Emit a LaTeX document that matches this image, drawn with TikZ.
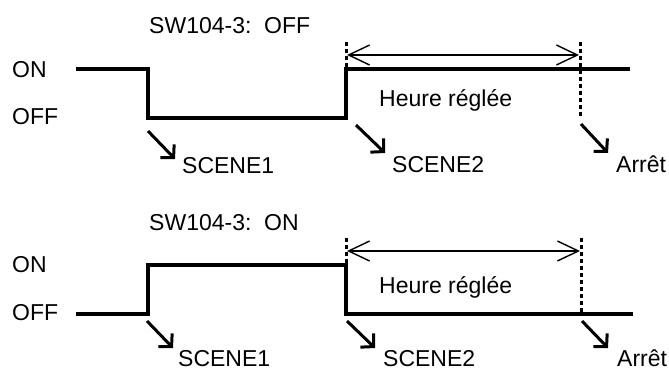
\documentclass[tikz,border=0pt]{standalone}
\usepackage{fontspec}
\setmainfont{Liberation Sans}
\usetikzlibrary{arrows.meta}
\begin{document}
\begin{tikzpicture}[x=1pt,y=-1pt,
  lbl/.style={inner sep=0pt,anchor=base west,font=\fontsize{23}{27}\selectfont},
  sig/.style={line width=4pt,line cap=butt,line join=miter},
  mark line/.style={line width=3pt,dash pattern=on 4pt off 3pt},
  dim/.style={line width=1.4pt,{Straight Barb[length=21pt,width=20pt,line width=1.4pt]}-{Straight Barb[length=21pt,width=20pt,line width=1.4pt]}},
  evt/.style={line width=3pt,-{Straight Barb[length=9pt,width=19pt,line width=3pt]}}]
\useasboundingbox (0,0) rectangle (669,370);
% ---------- top ----------
\node[lbl] (t1) at (149,33) {SW104-3:\ \ OFF};
\node[lbl] (on1) at (12,77) {ON};
\node[lbl] (off1) at (12,124) {OFF};
\coordinate (a0) at (76,69);
\coordinate (a1) at (148,69);
\coordinate (a2) at (148,118);
\coordinate (a3) at (346,118);
\coordinate (a4) at (346,69);
\coordinate (a5) at (630,69);
\draw[sig] (a0) -- (a1) -- (a2) -- (a3) -- (a4) -- (a5);
\coordinate (d1t) at (346,42);
\coordinate (d2t) at (580,42);
\coordinate (d2b) at (580,118);
\draw[mark line] (d1t) -- (a4);
\draw[mark line] (d2t) -- (d2b);
\coordinate (h1l) at (347,55);
\coordinate (h1r) at (579,55);
\draw[dim] (h1l) -- (h1r);
\node[lbl] (hr1) at (379,106) {Heure réglée};
\node[lbl] (s11) at (182,173) {SCENE1};
\node[lbl] (s12) at (392,172) {SCENE2};
\node[lbl] (ar1) at (616,172) {Arrêt};
\coordinate (e11) at (148,131);
\coordinate (e12) at (356,125);
\coordinate (e13) at (581,124);
\draw[evt] (e11) -- (175,159);
\draw[evt] (e12) -- (385,153);
\draw[evt] (e13) -- (608,153);
% ---------- bottom ----------
\node[lbl] (t2) at (149,230) {SW104-3:\ \ ON};
\node[lbl] (on2) at (12,272) {ON};
\node[lbl] (off2) at (12,320) {OFF};
\coordinate (b0) at (76,314);
\coordinate (b1) at (148,314);
\coordinate (b2) at (148,265);
\coordinate (b3) at (346,265);
\coordinate (b4) at (346,314);
\coordinate (b5) at (633,314);
\draw[sig] (b0) -- (b1) -- (b2) -- (b3) -- (b4) -- (b5);
\coordinate (g1t) at (346,238);
\coordinate (g2t) at (581,238);
\coordinate (g2b) at (581,314);
\draw[mark line] (g1t) -- (b3);
\draw[mark line] (g2t) -- (g2b);
\coordinate (h2l) at (347,251);
\coordinate (h2r) at (580,251);
\draw[dim] (h2l) -- (h2r);
\node[lbl] (hr2) at (379,293) {Heure réglée};
\node[lbl] (s21) at (178,366.5) {SCENE1};
\node[lbl] (s22) at (383,366.5) {SCENE2};
\node[lbl] (ar2) at (617,366.5) {Arrêt};
\coordinate (e21) at (147,321);
\coordinate (e22) at (347,321);
\coordinate (e23) at (582,321);
\draw[evt] (e21) -- (173,348);
\draw[evt] (e22) -- (375,348);
\draw[evt] (e23) -- (608,348);
\end{tikzpicture}
\end{document}
